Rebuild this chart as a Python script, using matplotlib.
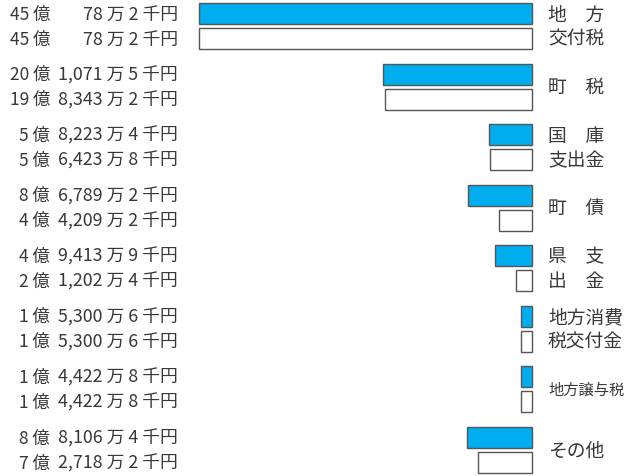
import matplotlib
matplotlib.use("Agg")
import matplotlib.pyplot as plt
import matplotlib.transforms as mtransforms
import numpy as np

plt.rcParams['font.family'] = ['Noto Sans CJK JP', 'DejaVu Sans']

# values in 千円
categories = ["地　方\n交付税", "町　税", "国　庫\n支出金", "町　債", "県　支\n出　金",
              "地方消費\n税交付金", "地方譲与税", "その他"]
current = [4500782, 2010715, 582234, 867892, 494139, 153006, 144228, 881064]
previous = [4500782, 1983432, 564238, 442092, 212024, 153006, 144228, 727182]


def split_label(v):
    oku = v // 100000
    man = (v % 100000) // 10
    sen = v % 10
    return "%d 億" % oku, "{:,} 万 {} 千円".format(man, sen)


fig = plt.figure(figsize=(6.3, 4.77), dpi=100)
ax = fig.add_axes([0, 0, 1, 1])
ax.axis('off')

px = 7.4 / 1e5  # pixels per 千円
ax.set_xlim(532 / px, -98 / px)
ax.set_ylim((477 - 27) / 60.57, -27 / 60.57)

y = np.arange(len(categories))
h = 0.347
off = 0.206
ax.barh(y - off, current, height=h, color='#00aeef', edgecolor='#555555', linewidth=1)
ax.barh(y + off, previous, height=h, color='white', edgecolor='#555555', linewidth=1)

tr = mtransforms.blended_transform_factory(ax.transAxes, ax.transData)
tc = '#383838'
for i in range(len(categories)):
    for v, yy in [(current[i], i - off), (previous[i], i + off)]:
        a, b = split_label(v)
        ax.text(50 / 630, yy, a, transform=tr, ha='right', va='center', fontsize=12.5, color=tc)
        ax.text(178 / 630, yy, b, transform=tr, ha='right', va='center', fontsize=12.8, color=tc)
    fs = 11 if categories[i] == "地方譲与税" else 13.5
    ax.text(548 / 630, i, categories[i], transform=tr, ha='left', va='center',
            fontsize=fs, color=tc, linespacing=1.2)

plt.savefig("out.png", dpi=100)
